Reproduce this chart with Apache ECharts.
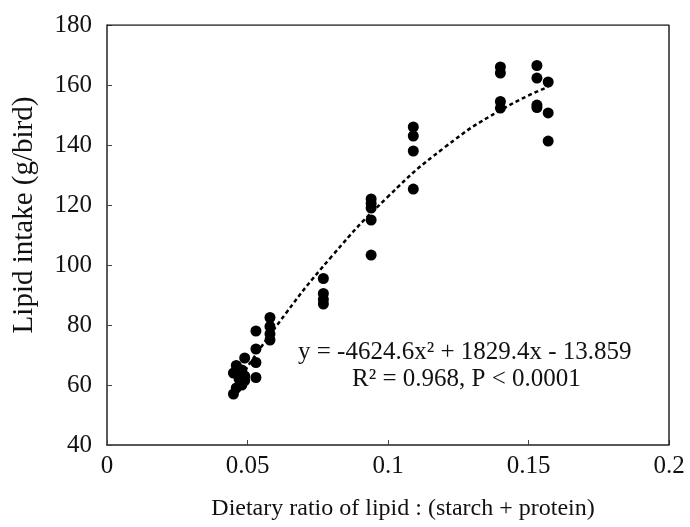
<!DOCTYPE html>
<html>
<head>
<meta charset="utf-8">
<script src="https://cdn.jsdelivr.net/npm/echarts@6/dist/echarts.min.js"></script>
<style>
  html, body { margin: 0; padding: 0; background: #fff; }
  #main { width: 690px; height: 527px; }
</style>
</head>
<body>
<div id="main"></div>
<script>
var ratioX = [
  0.045, 0.045, 0.046, 0.046, 0.047, 0.048, 0.048, 0.049, 0.049, 0.049,
  0.053, 0.053, 0.053, 0.053,
  0.058, 0.058, 0.058, 0.058,
  0.077, 0.077, 0.077, 0.077,
  0.094, 0.094, 0.094, 0.094, 0.094,
  0.109, 0.109, 0.109, 0.109,
  0.140, 0.140, 0.140, 0.140,
  0.153, 0.153, 0.153, 0.153,
  0.157, 0.157, 0.157
];
var lipidIntake = [
  57, 64, 59, 66.5, 62, 60, 65, 61.5, 63, 69,
  78, 72, 67.5, 62.5,
  82.5, 79.5, 77, 75,
  95.5, 90.5, 88.5, 87,
  122, 120.5, 119, 115, 103.3,
  146, 143, 138, 125.3,
  166, 164, 154.5, 152.3,
  166.5, 162.3, 153.3, 152.5,
  161, 150.7, 141.3
];

// fitted curve
var trendX = [0.045, 0.06, 0.08, 0.10, 0.12, 0.14, 0.157];
var trendY = [59, 79.3, 102.9, 122.8, 139.1, 151.6, 159.4];

var xTicks = ['0', '0.05', '0.1', '0.15', '0.2'];

var myChart = echarts.init(document.getElementById('main'));

var font = 'Liberation Serif';
var points = ratioX.map(function (x, i) { return [x, lipidIntake[i]]; });
var curve = trendX.map(function (x, i) { return [x, trendY[i]]; });

var option = {
  backgroundColor: '#fff',
  animation: false,
  grid: { left: 107, right: 21, top: 25, bottom: 82, show: false },
  xAxis: {
    type: 'value',
    min: 0, max: 0.2, interval: 0.05,
    name: 'Dietary ratio of lipid : (starch + protein)',
    nameLocation: 'middle',
    nameGap: 52,
    nameTextStyle: { fontFamily: font, fontSize: 24, color: '#111', padding: [0, 0, 0, 30] },
    axisLine: { show: true, lineStyle: { color: '#222', width: 1.5 } },
    axisTick: { show: true, inside: true, length: 5, lineStyle: { color: '#444' } },
    axisLabel: {
      fontFamily: font, fontSize: 25, color: '#111', margin: 9,
      formatter: function (v) { return xTicks[Math.round(v / 0.05)]; }
    },
    splitLine: { show: false }
  },
  yAxis: {
    type: 'value',
    min: 40, max: 180, interval: 20,
    name: 'Lipid intake (g/bird)',
    nameLocation: 'middle',
    nameGap: 68,
    nameTextStyle: { fontFamily: font, fontSize: 29, color: '#111', padding: [0, 0, 0, 40] },
    axisLine: { show: true, lineStyle: { color: '#222', width: 1.5 } },
    axisTick: { show: true, inside: true, length: 5, lineStyle: { color: '#444' } },
    axisLabel: { fontFamily: font, fontSize: 25, color: '#111', margin: 15 },
    splitLine: { show: false }
  },
  series: [
    {
      type: 'scatter',
      data: points,
      symbol: 'circle',
      symbolSize: 11,
      itemStyle: { color: '#000', opacity: 1 }
    },
    {
      type: 'line',
      data: curve,
      smooth: true,
      showSymbol: false,
      lineStyle: { color: '#000', width: 2.5, type: [4, 3] },
      z: 1
    },
    {
      // frame on top and right
      type: 'line',
      data: [[0, 180], [0.2, 180], [0.2, 40]],
      showSymbol: false,
      silent: true,
      lineStyle: { color: '#222', width: 1.5 }
    }
  ],
  graphic: [
    {
      type: 'text', left: 298, top: 340,
      style: { text: 'y = -4624.6x² + 1829.4x - 13.859', font: '25px "Liberation Serif"', fill: '#111' }
    },
    {
      type: 'text', left: 352, top: 367,
      style: { text: 'R² = 0.968, P < 0.0001', font: '25px "Liberation Serif"', fill: '#111' }
    }
  ]
};

myChart.setOption(option);
</script>
</body>
</html>
